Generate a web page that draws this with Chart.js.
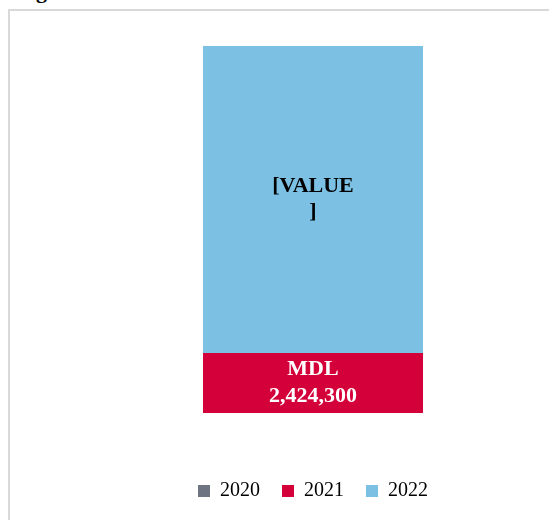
<!DOCTYPE html>
<html>
<head>
<meta charset="utf-8">
<script src="https://cdn.jsdelivr.net/npm/chart.js@4/dist/chart.umd.min.js"></script>
<style>
  html, body { margin: 0; padding: 0; background: #fff; overflow: hidden; }
  body { width: 549px; height: 520px; position: relative; }
  #cut-title {
    position: absolute; left: 36px; top: -20px;
    font: bold 22px "Liberation Serif", serif; line-height: 22px; color: #000;
  }
  #frame {
    position: absolute; left: 8px; top: 9px; width: 600px; height: 600px;
    border: 2px solid #d9d9d9; box-sizing: border-box;
  }
  #wrap { position: absolute; left: 0; top: 0; width: 549px; height: 511px; }
</style>
</head>
<body>
<div id="cut-title">g</div>
<div id="frame"></div>
<div id="wrap"><canvas id="chart"></canvas></div>
<script>
  // data
  const categories = [''];
  const seriesNames = ['2020', '2021', '2022'];
  const values2020 = [0];
  const values2021 = [2424300];
  const values2022 = [12400000];
  const seriesColors = ['#6e7482', '#d4003a', '#7cc1e3'];
  // text written inside each segment (2022 still carries the placeholder)
  const segmentLabels = [
    null,
    ['MDL', values2021[0].toLocaleString('en-US')],
    ['[VALUE', ']']
  ];
  const labelColors = [null, '#ffffff', '#000000'];

  const serif = '"Liberation Serif", "Times New Roman", serif';

  const segmentText = {
    id: 'segmentText',
    afterDatasetsDraw(chart) {
      const ctx = chart.ctx;
      ctx.save();
      ctx.font = 'bold 22px ' + serif;
      ctx.textAlign = 'center';
      ctx.textBaseline = 'middle';
      chart.data.datasets.forEach(function (ds, i) {
        const lines = segmentLabels[i];
        if (!lines) return;
        const bar = chart.getDatasetMeta(i).data[0];
        const cy = (bar.y + bar.base) / 2;
        const lh = 26.5;
        ctx.fillStyle = labelColors[i];
        lines.forEach(function (t, k) {
          ctx.fillText(t, bar.x, cy + (k - (lines.length - 1) / 2) * lh);
        });
      });
      ctx.restore();
    }
  };

  const allValues = [values2020, values2021, values2022];
  const total = values2020[0] + values2021[0] + values2022[0];

  new Chart(document.getElementById('chart'), {
    type: 'bar',
    data: {
      labels: categories,
      datasets: seriesNames.map(function (name, i) {
        return {
          label: name,
          data: allValues[i],
          backgroundColor: seriesColors[i],
          borderWidth: 0,
          barPercentage: 220 / 472,
          categoryPercentage: 1
        };
      })
    },
    options: {
      responsive: true,
      maintainAspectRatio: false,
      animation: false,
      layout: { padding: { top: 46, left: 77, right: 0, bottom: 0 } },
      scales: {
        x: {
          stacked: true,
          grid: { display: false },
          border: { display: false },
          ticks: { display: false },
          afterFit: function (scale) { scale.height = 46; }
        },
        y: {
          stacked: true,
          display: false,
          min: 0,
          max: total
        }
      },
      plugins: {
        tooltip: { enabled: false },
        legend: {
          position: 'bottom',
          labels: {
            boxWidth: 12,
            boxHeight: 12,
            padding: 22,
            color: '#000',
            font: { family: serif, size: 20 }
          }
        }
      }
    },
    plugins: [segmentText]
  });
</script>
</body>
</html>
